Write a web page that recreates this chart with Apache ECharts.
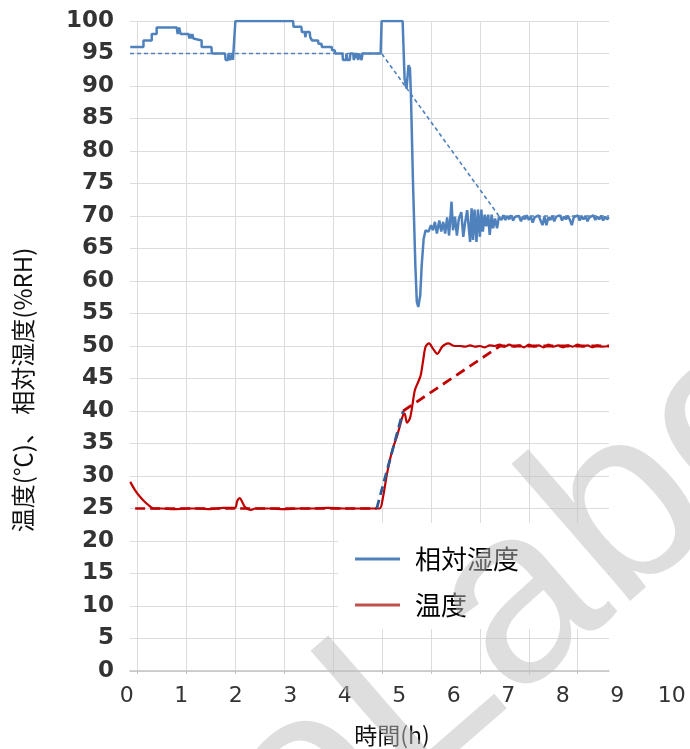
<!DOCTYPE html>
<html>
<head>
<meta charset="utf-8">
<script src="https://cdn.jsdelivr.net/npm/echarts@6/dist/echarts.min.js"></script>
<style>
  html, body { margin: 0; padding: 0; background: #fff; }
  #chart { width: 690px; height: 749px; }
</style>
</head>
<body>
<div id="chart"></div>
<script>
// Time axis tick labels (hours)
const hourLabels = [0, 1, 2, 3, 4, 5, 6, 7, 8, 9, 10];

// Relative humidity measurement [hour, %RH]
const humidity = [
  [-0.15, 96], [0.12, 96], [0.12, 97], [0.29, 97], [0.29, 98], [0.39, 98], [0.39, 99],
  [0.80, 99], [0.82, 98], [0.85, 99], [0.87, 99], [0.88, 98], [1.04, 98], [1.06, 97.3],
  [1.08, 98], [1.10, 97.3], [1.12, 98], [1.14, 97.3], [1.16, 97.6], [1.17, 97], [1.31, 97],
  [1.31, 96], [1.51, 96], [1.52, 95], [1.79, 95], [1.80, 94], [1.85, 94], [1.86, 95],
  [1.88, 95], [1.89, 94], [1.93, 94], [1.94, 95], [1.95, 94], [1.99, 94], [2.00, 100],
  [3.18, 100], [3.19, 99.1], [3.35, 99.1], [3.36, 98.3], [3.42, 98.3], [3.43, 97.5],
  [3.45, 98.3], [3.52, 98.3], [3.53, 97.5], [3.56, 97.5], [3.57, 97], [3.69, 97],
  [3.70, 96.5], [3.76, 96.5], [3.77, 96], [3.97, 96], [3.98, 95.5], [4.03, 95.5],
  [4.04, 95], [4.19, 95], [4.20, 94], [4.26, 94], [4.27, 95], [4.29, 94], [4.34, 94],
  [4.35, 95], [4.41, 95], [4.42, 94], [4.46, 94], [4.47, 95], [4.50, 95], [4.51, 94],
  [4.53, 95], [4.57, 95], [4.58, 94], [4.60, 95], [4.65, 95], [4.97, 95], [4.99, 100],
  [5.42, 100], [5.46, 91.1], [5.50, 89.6], [5.54, 93.2], [5.57, 92.7], [5.59, 88.6],
  [5.63, 75.7], [5.68, 62.4], [5.71, 56.8], [5.74, 56.0], [5.78, 57.8], [5.81, 62.4],
  [5.85, 66.5], [5.89, 67.8], [5.95, 67.6], [6.00, 68.6], [6.04, 67.8], [6.08, 69.1],
  [6.12, 67.3], [6.17, 69.3], [6.21, 67.6], [6.25, 69.1], [6.29, 67.3], [6.33, 69.8],
  [6.37, 67.0], [6.42, 72.2], [6.45, 67.8], [6.49, 69.9], [6.53, 67.0], [6.57, 69.6],
  [6.62, 70.6], [6.66, 66.8], [6.70, 69.1], [6.74, 70.9], [6.78, 67.6], [6.80, 66.0],
  [6.83, 71.2], [6.86, 66.3], [6.89, 71.0], [6.93, 66.0], [6.96, 71.0], [7.00, 66.8],
  [7.03, 71.0], [7.06, 67.6], [7.10, 70.2], [7.13, 68.4], [7.17, 70.2], [7.20, 67.1],
  [7.24, 70.2], [7.27, 68.1], [7.31, 69.6], [7.35, 68.1], [7.39, 69.9], [7.44, 69.4],
  [7.48, 70.1], [7.52, 69.4], [7.56, 70.0], [7.60, 69.5], [7.64, 70.1], [7.68, 69.3],
  [7.72, 69.9], [7.76, 69.6], [7.80, 70.0], [7.84, 69.2], [7.88, 69.9], [7.92, 69.5],
  [7.96, 70.1], [8.00, 69.4], [8.04, 69.9], [8.08, 69.0], [8.12, 69.8], [8.16, 69.5],
  [8.20, 70.1], [8.24, 69.3], [8.28, 68.6], [8.32, 69.9], [8.36, 68.6], [8.40, 69.8],
  [8.44, 69.4], [8.48, 70.0], [8.52, 69.2], [8.56, 69.9], [8.60, 69.6], [8.64, 70.1],
  [8.68, 69.3], [8.72, 69.9], [8.76, 69.5], [8.80, 70.0], [8.84, 69.4], [8.88, 68.6],
  [8.92, 69.8], [8.96, 69.5], [9.00, 70.1], [9.04, 69.3], [9.08, 69.9], [9.12, 69.5],
  [9.16, 70.0], [9.20, 69.2], [9.24, 69.8], [9.28, 69.6], [9.32, 70.1], [9.36, 69.4],
  [9.40, 69.9], [9.44, 69.5], [9.48, 70.0], [9.52, 69.3], [9.56, 69.9], [9.60, 69.5],
  [9.64, 69.8]
];

// Temperature measurement [hour, °C]
const temperature = [
  [-0.15, 29.1], [-0.05, 27.8], [0.05, 26.8], [0.15, 26.0], [0.26, 25.3], [0.32, 25.0],
  [0.50, 25.0], [0.75, 24.9], [1.00, 25.0], [1.25, 25.0], [1.50, 24.9], [1.75, 25.1],
  [1.99, 25.1], [2.04, 26.2], [2.09, 26.6], [2.14, 26.0], [2.20, 25.2], [2.26, 24.9],
  [2.32, 24.8], [2.40, 25.0], [2.70, 25.0], [3.00, 24.9], [3.30, 25.0], [3.60, 25.0],
  [3.90, 25.1], [4.20, 25.0], [4.50, 25.0], [4.80, 25.0], [4.95, 25.0], [5.02, 26.8],
  [5.09, 29.9], [5.16, 32.5], [5.23, 34.5], [5.30, 36.0], [5.36, 37.6], [5.43, 39.4],
  [5.46, 39.6], [5.51, 38.2], [5.57, 38.9], [5.62, 40.9], [5.67, 43.2], [5.74, 44.5],
  [5.79, 45.5], [5.84, 47.8], [5.89, 49.9], [5.96, 50.4], [6.04, 49.6], [6.13, 48.8],
  [6.23, 49.9], [6.35, 50.4], [6.49, 50.0], [6.60, 50.0], [6.70, 49.9], [6.80, 50.1],
  [6.90, 49.9], [7.00, 50.0], [7.10, 49.8], [7.20, 50.1], [7.30, 50.0], [7.40, 50.2],
  [7.50, 49.9], [7.60, 50.2], [7.70, 49.9], [7.80, 50.1], [7.90, 49.8], [8.00, 50.2],
  [8.10, 49.9], [8.20, 50.1], [8.30, 49.8], [8.40, 50.2], [8.50, 49.9], [8.60, 50.1],
  [8.70, 49.8], [8.80, 50.1], [8.90, 49.9], [9.00, 50.2], [9.10, 49.9], [9.20, 50.1],
  [9.30, 49.8], [9.40, 50.1], [9.50, 49.9], [9.64, 50.0]
];

// Programmed set points
const humiditySet = [[-0.155, 95], [4.99, 95], [7.39, 70], [9.64, 70]];
const tempSetHold = [[-0.05, 25], [4.89, 25]];
const tempSetRamp = [[4.89, 25], [5.43, 40]];
const tempSetSoak = [[5.43, 40], [7.41, 50], [9.64, 50]];

const axisFont = 'DejaVu Sans';
const cjkFont = '"Noto Sans CJK JP"';

const chart = echarts.init(document.getElementById('chart'), null, { renderer: 'canvas' });

chart.setOption({
  animation: false,
  backgroundColor: '#ffffff',
  grid: [
    { left: 130, right: 81, top: 21, bottom: 78 },
    { left: 137.6, right: 112.3, top: 21, bottom: 78 },
    { left: 126.7, width: 545, top: 21, bottom: 78 }
  ],
  xAxis: [
    {
      gridIndex: 0, type: 'value', min: -0.155, max: 9.64,
      axisLine: { show: true, lineStyle: { color: '#c4c4c4', width: 1.5 } },
      axisTick: { show: false }, axisLabel: { show: false }, splitLine: { show: false }
    },
    {
      gridIndex: 1, type: 'value', min: 0, max: 9, interval: 1,
      axisLine: { show: false },
      axisTick: { show: true, length: 3, lineStyle: { color: '#c4c4c4' } },
      axisLabel: { show: false },
      splitLine: { show: true, lineStyle: { color: '#dcdcdc', width: 1 } }
    },
    {
      gridIndex: 2, type: 'value', min: 0, max: 10, interval: 1,
      axisLine: { show: false }, axisTick: { show: false }, splitLine: { show: false },
      axisLabel: { show: true, fontSize: 22, color: '#333', fontFamily: axisFont, margin: 14 },
      data: hourLabels
    }
  ],
  yAxis: [
    {
      gridIndex: 0, type: 'value', min: 0, max: 100, interval: 5,
      axisLine: { show: false }, axisTick: { show: false },
      splitLine: { show: true, lineStyle: { color: '#dcdcdc', width: 1 } },
      axisLabel: {
        fontSize: 23, fontWeight: 'bold', color: '#333', fontFamily: axisFont,
        margin: 16, padding: [0, 0, 6, 0]
      }
    },
    { gridIndex: 1, type: 'value', min: 0, max: 100, show: false },
    { gridIndex: 2, type: 'value', min: 0, max: 100, show: false }
  ],
  legend: {
    orient: 'vertical', left: 338, top: 523,
    padding: [23, 89, 11, 17], backgroundColor: '#ffffff',
    icon: 'rect', itemWidth: 45, itemHeight: 3, itemGap: 20,
    textStyle: { fontSize: 26, color: '#000', fontFamily: cjkFont, padding: [0, 0, 0, 10] },
    data: [
      { name: '相対湿度', itemStyle: { color: '#4f81bd' } },
      { name: '温度', itemStyle: { color: '#c0504d' } }
    ]
  },
  series: [
    {
      name: '相対湿度設定', type: 'line', xAxisIndex: 0, yAxisIndex: 0,
      data: humiditySet, showSymbol: false, z: 3,
      lineStyle: { color: '#4f81bd', width: 1.6, type: [4, 3] }
    },
    {
      name: '相対湿度', type: 'line', xAxisIndex: 0, yAxisIndex: 0,
      data: humidity, showSymbol: false, z: 2,
      itemStyle: { color: '#4f81bd' },
      lineStyle: { color: '#4f81bd', width: 2.5 }
    },
    {
      name: '温度', type: 'line', xAxisIndex: 0, yAxisIndex: 0,
      data: temperature, showSymbol: false, smooth: 0.3, z: 2,
      itemStyle: { color: '#c0504d' },
      lineStyle: { color: '#c00000', width: 2.2 }
    },
    {
      name: '温度設定', type: 'line', xAxisIndex: 0, yAxisIndex: 0,
      data: tempSetHold, showSymbol: false, z: 4,
      lineStyle: { color: '#c00000', width: 2.5, type: [10, 5] }
    },
    {
      name: '温度設定(昇温)', type: 'line', xAxisIndex: 0, yAxisIndex: 0,
      data: tempSetRamp, showSymbol: false, z: 4,
      lineStyle: { color: '#2f5a94', width: 2.8, type: [9, 5] }
    },
    {
      name: '温度設定(保持)', type: 'line', xAxisIndex: 0, yAxisIndex: 0,
      data: tempSetSoak, showSymbol: false, z: 4,
      lineStyle: { color: '#c00000', width: 2.8, type: [10, 6] }
    }
  ],
  graphic: [
    {
      type: 'text', x: 23, y: 390, rotation: Math.PI / 2, silent: true,
      style: {
        text: '温度(℃)、 相対湿度(%RH)', fontSize: 24, fontFamily: cjkFont,
        fill: '#111', align: 'center', verticalAlign: 'middle'
      }
    },
    {
      type: 'text', x: 392, y: 735, silent: true,
      style: {
        text: '時間(h)', fontSize: 23, fontFamily: cjkFont,
        fill: '#111', align: 'center', verticalAlign: 'middle'
      }
    },
    {
      type: 'text', x: 520, y: 605, rotation: 0.716, silent: true, z: 100,
      style: {
        text: 'oLabo', fontSize: 250, fontFamily: 'Liberation Sans',
        fill: 'rgba(190,190,190,0.5)', align: 'center', verticalAlign: 'middle'
      }
    }
  ]
});
</script>
</body>
</html>
